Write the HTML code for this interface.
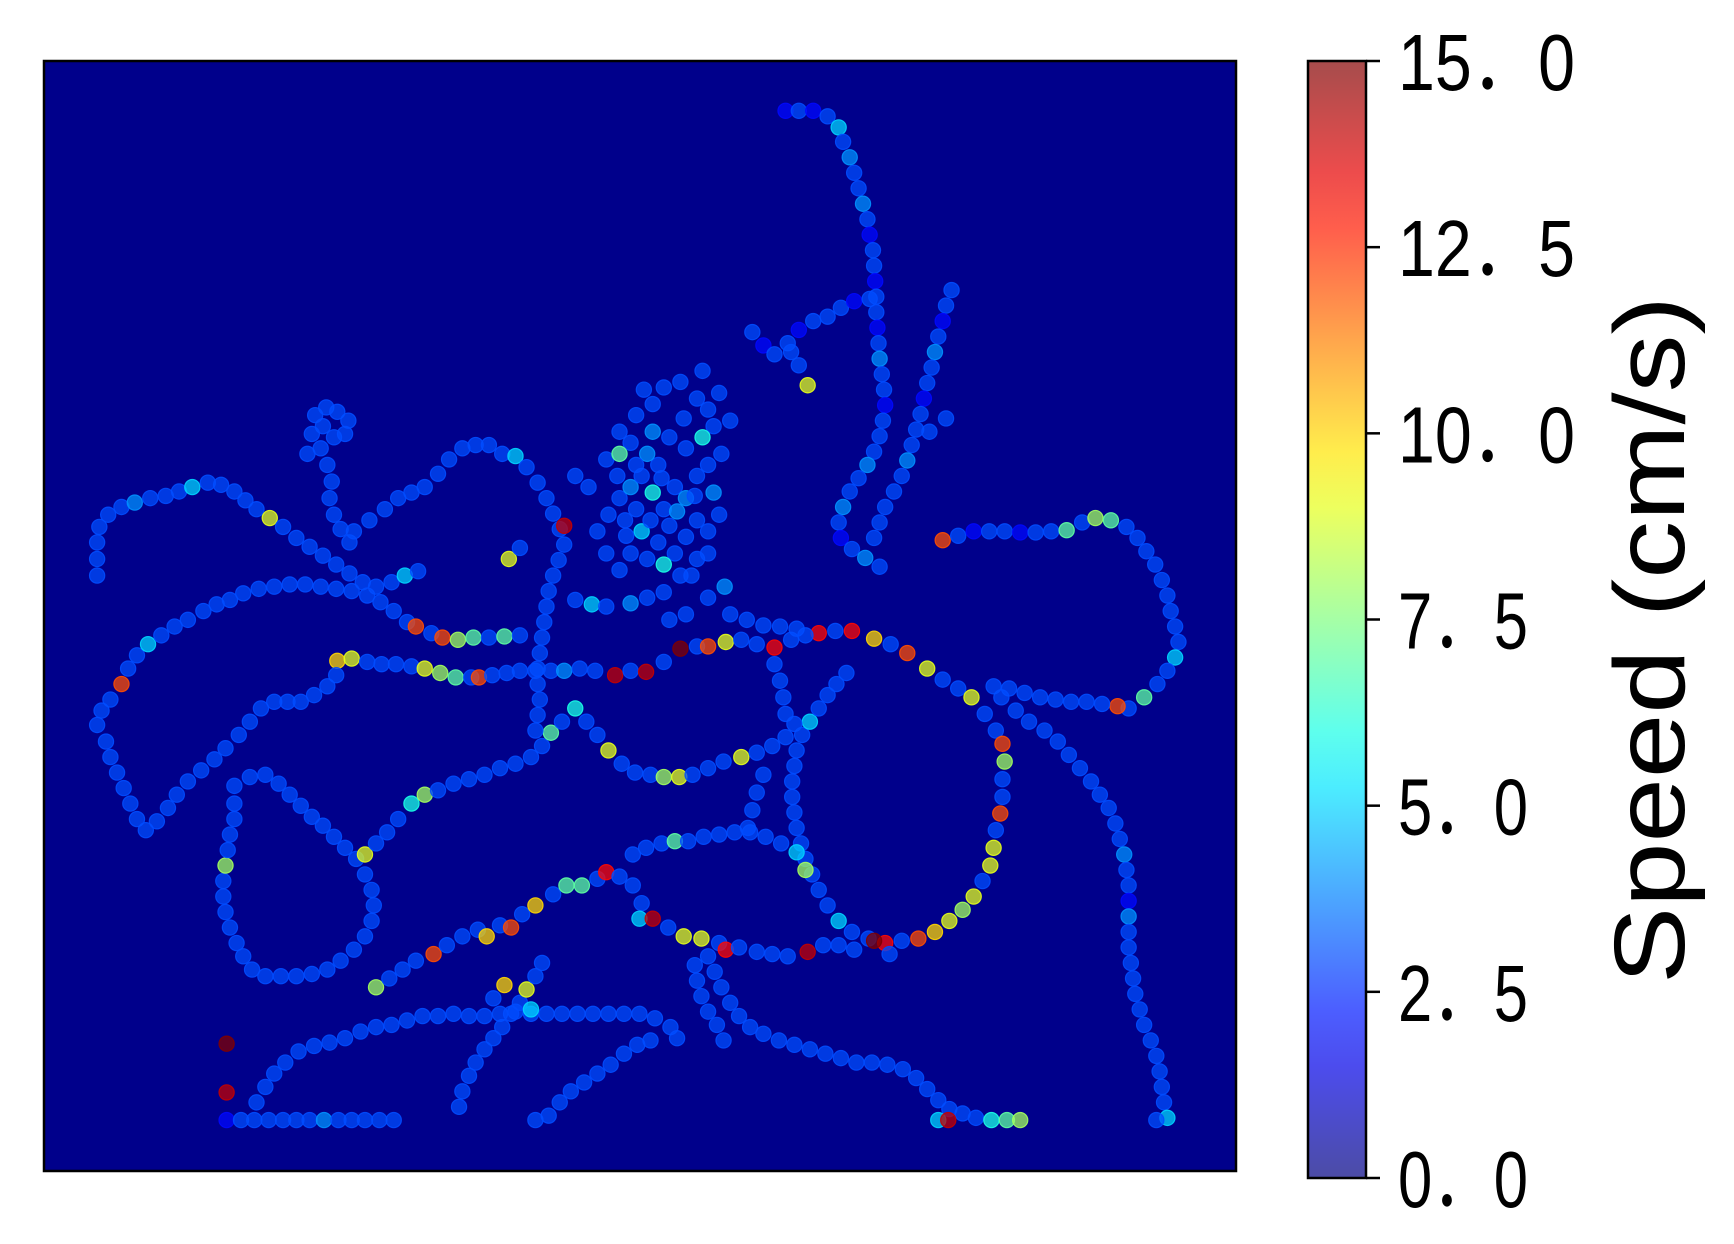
<!DOCTYPE html>
<html><head><meta charset="utf-8"><style>
html,body{margin:0;padding:0;background:#fff;}
svg{display:block;}
</style></head><body>
<svg id="chart" width="1734" height="1244" viewBox="0 0 1734 1244" xmlns="http://www.w3.org/2000/svg">
<defs><linearGradient id="jetgrad" x1="0" y1="1" x2="0" y2="0"></linearGradient>
<clipPath id="plotclip"><rect x="44" y="61" width="1192" height="1110"/></clipPath></defs>
<rect x="44" y="61" width="1192" height="1110" fill="#00008b"/>
<g id="points" clip-path="url(#plotclip)"></g>
<rect x="44" y="61" width="1192" height="1110" fill="none" stroke="#000" stroke-width="2.5"/>
<g id="cbar"></g>
</svg>
<script>
const speedTicks=[0,2.5,5,7.5,10,12.5,15];
const tickLabels=["0．0","2．5","5．0","7．5","10．0","12．5","15．0"];
const t1=[[710,100,2],[722,100,3],[735,100,2],[748,105,3],[758,115,5],[762,128,3],[768,142,4],[772,156,3],[776,170,3],[780,184,4],[784,198,3],[786,212,2],[789,226,3],[790,240,3],[791,254,2],[792,268,3],[792,282,3],[793,296,2],[794,310,3],[795,324,4],[797,338,3],[799,352,3],[800,366,2],[798,380,3],[795,394,3],[790,408,3],[784,420,4],[776,432,3],[768,444,3],[762,458,4],[758,472,3],[760,486,2],[770,496,3],[782,504,4],[795,512,3]];
const t2=[[680,300,3],[690,312,2],[700,320,3],[712,310,3],[722,298,2],[735,290,3],[748,286,3],[760,278,3],[772,272,2],[786,270,3],[730,348,9],[722,330,3],[715,318,3]];
const t3=[[860,262,3],[855,276,3],[852,290,2],[848,304,3],[845,318,4],[842,332,3],[838,346,3],[835,360,2],[832,374,3],[828,388,3],[824,402,3],[820,416,4],[815,430,3],[808,444,3],[800,458,3],[795,472,3],[790,486,3],[855,378,3],[840,390,3]];
const t4=[[852,488,12],[866,484,3],[880,480,2],[894,480,3],[908,480,3],[922,481,2],[936,481,3],[950,480,3],[964,479,7],[978,472,3],[990,468,8],[1004,470,7],[1018,476,3],[1028,486,3],[1036,498,3],[1044,510,3],[1050,524,3],[1055,538,3],[1058,552,3],[1062,566,3],[1065,580,3],[1062,594,5],[1055,606,3],[1046,618,3],[1034,630,7],[1020,640,3],[1010,638,12],[996,636,3],[982,634,3],[968,634,3],[954,632,3],[940,630,3],[926,626,3],[912,622,3],[898,620,3]];
const t5=[[905,630,3],[918,642,3],[930,652,3],[944,660,3],[956,670,3],[966,682,3],[976,694,3],[986,706,3],[994,718,3],[1002,730,3],[1008,744,3],[1012,758,3],[1016,772,4],[1018,786,3],[1020,800,3],[1020,814,2],[1020,828,4],[1020,842,3],[1020,856,3],[1022,870,3],[1024,884,3],[1026,898,3],[1030,912,3],[1034,926,3],[1040,940,3],[1045,954,3],[1048,968,3],[1050,982,3],[1052,996,3],[1055,1010,5],[1045,1012,3]];
const t6=[[740,572,13],[755,570,3],[770,570,13],[790,577,10],[805,582,3],[820,590,12],[838,604,9],[852,614,3],[866,622,3],[878,630,9],[890,645,3],[900,660,3],[906,672,12],[908,688,8],[906,704,3],[906,720,3],[904,735,12],[900,750,3],[898,766,9],[895,782,9],[888,796,3],[880,810,9],[870,822,8],[858,832,9],[845,842,10],[830,848,12],[815,850,3],[800,852,13],[785,848,3],[770,842,3],[758,832,5],[748,818,3],[740,804,3],[734,790,3],[728,776,3],[724,762,3],[720,748,3],[718,734,3],[716,720,3],[716,706,3],[718,692,3],[720,678,3],[725,664,3],[732,652,5],[740,640,3],[748,628,3],[756,618,3],[765,608,3]];
const t7=[[305,597,10],[318,595,9],[332,598,3],[345,600,3],[358,600,3],[372,602,3],[384,604,9],[398,608,8],[412,612,7],[426,612,3],[433,612,12],[445,610,3],[458,608,3],[470,606,3],[484,606,3],[498,606,3],[510,606,4],[524,604,3],[538,606,3],[556,610,14],[570,606,3],[584,607,14],[600,598,3],[615,586,15],[630,584,3],[640,584,12],[656,580,9],[670,578,3],[684,582,3],[700,585,13],[715,578,3],[728,574,3]];
const t8=[[88,520,3],[88,505,3],[88,490,3],[90,476,3],[98,465,3],[110,458,3],[122,454,4],[136,450,3],[150,448,3],[162,444,3],[174,440,5],[188,436,3],[200,438,3],[212,444,3],[222,452,3],[232,460,3],[244,468,9],[256,476,3],[268,486,3],[280,494,3],[292,502,3],[304,510,3],[316,518,3],[328,526,3],[340,530,3],[354,526,3],[366,520,5],[378,516,3]];
const t9=[[110,618,12],[116,604,3],[124,592,3],[134,582,5],[146,574,3],[158,566,3],[170,560,3],[184,552,3],[196,546,3],[208,542,3],[220,536,3],[234,532,3],[248,530,3],[262,528,3],[276,528,3],[290,530,3],[304,532,3],[318,534,3],[332,538,3],[344,544,3],[356,552,3],[368,562,3],[376,566,12],[390,572,3],[400,576,12],[414,578,8],[428,576,7],[442,576,3],[456,575,7],[470,574,3]];
const t10=[[88,655,3],[92,642,3],[100,632,3],[96,670,3],[100,684,3],[106,698,3],[112,712,3],[118,726,3],[124,740,3],[132,750,3],[142,742,3],[152,730,3],[160,718,3],[170,706,3],[182,696,3],[194,686,3],[204,676,3],[216,664,3],[226,652,3],[236,640,3],[248,634,3],[260,634,3],[272,634,3],[284,628,3],[296,620,3],[304,610,3]];
const t11=[[212,710,3],[226,702,3],[240,700,3],[252,708,3],[262,718,3],[272,728,3],[282,738,3],[292,746,3],[302,756,3],[312,766,3],[322,776,3],[330,790,3],[336,804,3],[338,818,3],[336,832,3],[330,846,3],[320,858,3],[308,868,3],[296,876,3],[282,880,3],[268,882,3],[254,882,3],[240,882,3],[228,876,3],[220,864,3],[214,852,3],[208,838,3],[204,824,3],[202,810,3],[202,796,3],[204,782,8],[206,768,3],[208,754,3],[212,740,3],[212,726,3]];
const t12=[[205,1012,2],[218,1012,3],[230,1012,3],[243,1012,3],[256,1012,3],[268,1012,3],[280,1012,3],[293,1012,4],[306,1012,3],[318,1012,3],[330,1012,3],[343,1012,3],[356,1012,3]];
const t13=[[232,996,3],[240,982,3],[248,970,3],[258,960,3],[270,950,3],[284,945,3],[298,942,3],[312,938,3],[326,932,3],[340,928,3],[354,926,3],[368,922,3],[382,918,3],[396,918,3],[410,916,3],[424,918,3],[438,918,3],[452,916,3],[466,914,3],[480,916,3],[494,916,3],[508,916,3],[522,916,3],[536,916,3],[550,916,3],[564,916,3],[578,916,3],[592,920,3],[606,928,3],[612,938,3]];
const t14=[[330,772,9],[340,762,3],[350,752,3],[360,740,3],[372,726,6],[384,718,8],[396,714,3],[410,708,3],[424,704,3],[438,700,3],[452,694,3],[466,690,3],[480,684,3],[490,674,3],[498,662,7],[508,652,3],[520,640,6],[530,652,3],[540,664,3],[550,678,9],[562,690,3],[574,698,3],[588,700,3],[600,702,8],[614,702,9],[626,700,3],[640,694,3],[654,688,3],[670,684,9],[684,680,3],[698,674,3],[710,666,3],[718,654,3]];
const t15=[[572,772,3],[584,766,3],[598,762,3],[610,760,7],[622,760,3],[636,756,3],[650,754,3],[664,752,3],[678,752,3],[692,756,3],[706,762,3],[720,770,5],[728,786,8]];
const t16=[[340,892,8],[352,884,3],[364,876,3],[376,868,3],[392,862,12],[404,854,3],[418,846,3],[432,840,3],[440,846,10],[452,836,3],[462,838,12],[472,826,3],[484,818,10],[500,808,3],[512,800,7],[526,800,7],[540,794,3],[548,788,13],[560,792,3],[572,800,3],[580,816,3],[578,830,5],[590,830,14],[604,838,3],[618,846,9],[634,848,9],[650,852,3],[656,858,13],[668,856,3],[684,860,3],[698,862,3],[712,864,3],[730,860,14],[744,854,3],[758,854,3],[772,858,3],[790,850,15],[804,862,3]];
const t17=[[560,450,3],[570,440,4],[580,430,3],[590,445,6],[600,460,3],[610,440,3],[620,450,4],[630,430,3],[640,420,3],[595,420,3],[585,410,4],[570,400,3],[560,390,3],[575,375,3],[590,365,3],[600,350,3],[615,345,3],[630,360,3],[640,370,3],[645,385,3],[635,395,6],[620,405,3],[605,395,3],[590,390,4],[575,420,3],[565,470,3],[580,480,5],[595,490,3],[610,500,3],[620,485,3],[630,470,3],[640,480,3],[650,465,3],[645,445,4],[630,505,3],[615,520,3],[600,510,6],[585,505,3],[570,500,3],[560,515,3],[548,500,3],[540,480,3],[550,465,3],[558,430,3],[548,415,3],[560,410,7],[575,460,3],[605,475,3],[625,520,3],[640,540,3],[655,530,4],[660,380,3],[635,335,3],[650,355,3],[600,535,3],[585,540,3],[570,545,4],[620,555,3],[605,560,3],[588,470,3],[612,462,4],[628,448,3],[598,432,3],[566,484,3],[640,500,3],[652,410,3],[618,378,3],[582,352,3]];
const t18=[[285,375,3],[295,368,3],[305,372,3],[315,380,3],[292,385,3],[302,395,3],[312,392,3],[282,392,3],[290,405,3],[296,420,3],[300,435,3],[298,450,3],[302,465,3],[308,478,3],[316,490,3],[278,410,3]];
const t19=[[320,480,3],[334,470,3],[348,460,3],[360,450,3],[372,445,3],[384,440,3],[396,428,3],[406,415,3],[418,405,3],[430,402,3],[442,402,3],[454,410,3],[466,412,5],[476,422,3],[486,436,3],[494,450,3],[500,464,3],[506,478,3],[510,492,3],[505,506,3],[500,520,3],[496,534,3],[494,548,3],[492,562,3],[490,576,3],[488,590,3],[486,604,3],[486,618,3],[488,632,3],[486,646,3],[484,660,3],[460,505,9],[470,495,3],[520,430,3],[532,440,3]];
const t20=[[415,1000,3],[418,986,3],[424,972,3],[430,960,3],[438,948,3],[446,938,3],[454,928,3],[462,916,3],[470,906,3],[476,894,9],[484,882,3],[490,870,3],[456,890,10],[446,902,3],[480,912,5],[484,1012,3],[496,1008,3],[506,996,3],[516,986,3],[528,978,3],[540,970,3],[552,962,3],[564,952,3],[576,944,3],[588,940,3]];
const t21=[[640,864,3],[646,878,3],[652,892,3],[660,906,3],[668,918,3],[678,928,3],[690,934,3],[704,940,3],[718,944,3],[732,948,3],[746,952,3],[760,956,3],[774,960,3],[788,960,3],[802,962,3],[816,966,3],[828,974,3],[838,984,3],[848,994,3],[858,1002,3],[870,1006,3],[882,1010,3],[896,1012,6],[910,1012,7],[922,1012,8],[848,1012,5],[857,1012,14]];
const t22=[[628,872,3],[630,886,3],[634,900,3],[640,914,3],[648,926,3],[654,940,3],[700,600,3],[705,615,3],[708,630,3],[710,645,3],[690,700,3],[684,716,3],[680,732,3],[676,748,3],[660,555,3],[675,560,3],[690,565,3],[705,566,3],[720,568,3],[520,542,3],[535,546,5],[548,548,3]];
const outliers=[[205,943,15],[205,987,14],[510,475,14]];
const tracks=[t1,t2,t3,t4,t5,t6,t7,t8,t9,t10,t11,t12,t13,t14,t15,t16,t17,t18,t19,t20,t21,t22,outliers];

const NS="http://www.w3.org/2000/svg";
const X0=40,X1=1117,Y0=55,Y1=1058;
function xScale(v){return 44+(v-X0)*(1192/(X1-X0));}
function yScale(v){return 61+(v-Y0)*(1110/(Y1-Y0));}
const CB_TOP=61,CB_BOT=1178,VMAX=15;
function cScale(v){return CB_BOT-(v/VMAX)*(CB_BOT-CB_TOP);}
function clip(a){return Math.max(0,Math.min(1,a));}
function jet(t){t=clip(t);const r=clip(1.5-Math.abs(4*t-3)),g=clip(1.5-Math.abs(4*t-2)),b=clip(1.5-Math.abs(4*t-1));
 return `rgb(${Math.round(r*255)},${Math.round(g*255)},${Math.round(b*255)})`;}

const pg=document.getElementById('points');
tracks.forEach(tr=>tr.forEach(p=>{
 const c=document.createElementNS(NS,'circle');
 
 
 c.setAttribute('cx',xScale(p[0]));c.setAttribute('cy',yScale(p[1]));c.setAttribute('r',7.6);
 c.setAttribute('fill',jet(p[2]/VMAX));c.setAttribute('fill-opacity',0.75);
 c.setAttribute('stroke',jet(p[2]/VMAX));c.setAttribute('stroke-opacity',0.9);c.setAttribute('stroke-width',1.2);
 pg.appendChild(c);
}));

const grad=document.getElementById('jetgrad');
for(let i=0;i<=20;i++){const s=document.createElementNS(NS,'stop');s.setAttribute('offset',i/20);s.setAttribute('stop-color',jet(i/20));grad.appendChild(s);}
const cb=document.getElementById('cbar');
const bar=document.createElementNS(NS,'rect');


bar.setAttribute('x',1308);bar.setAttribute('y',CB_TOP);bar.setAttribute('width',58);bar.setAttribute('height',CB_BOT-CB_TOP);
bar.setAttribute('fill','url(#jetgrad)');bar.setAttribute('fill-opacity',0.7);bar.setAttribute('stroke','#000');bar.setAttribute('stroke-width',2.5);
cb.appendChild(bar);
speedTicks.forEach((v,i)=>{
 const y=cScale(v);
 const l=document.createElementNS(NS,'line');
 
 
 l.setAttribute('x1',1366);l.setAttribute('x2',1380);l.setAttribute('y1',y);l.setAttribute('y2',y);l.setAttribute('stroke','#000');l.setAttribute('stroke-width',2.5);
 cb.appendChild(l);
 const t=document.createElementNS(NS,'text');
 
 
 t.setAttribute('x',1398);t.setAttribute('y',y+29);
 t.setAttribute('font-family','"Liberation Sans","Noto Sans CJK JP",sans-serif');
 t.setAttribute('font-size',80);t.setAttribute('fill','#000');
 t.setAttribute('textLength',tickLabels[i].length>3?177:130);t.setAttribute('lengthAdjust','spacingAndGlyphs');
 t.textContent=tickLabels[i];
 cb.appendChild(t);
});
const lab=document.createElementNS(NS,'text');


lab.setAttribute('transform','translate(1684,640) rotate(-90)');
lab.setAttribute('text-anchor','middle');
lab.setAttribute('font-family','"Liberation Sans","Noto Sans CJK JP",sans-serif');
lab.setAttribute('font-size',100);
lab.setAttribute('textLength',688);lab.setAttribute('lengthAdjust','spacingAndGlyphs');
lab.textContent='Speed (cm/s)';
cb.appendChild(lab);
</script>
</body></html>
